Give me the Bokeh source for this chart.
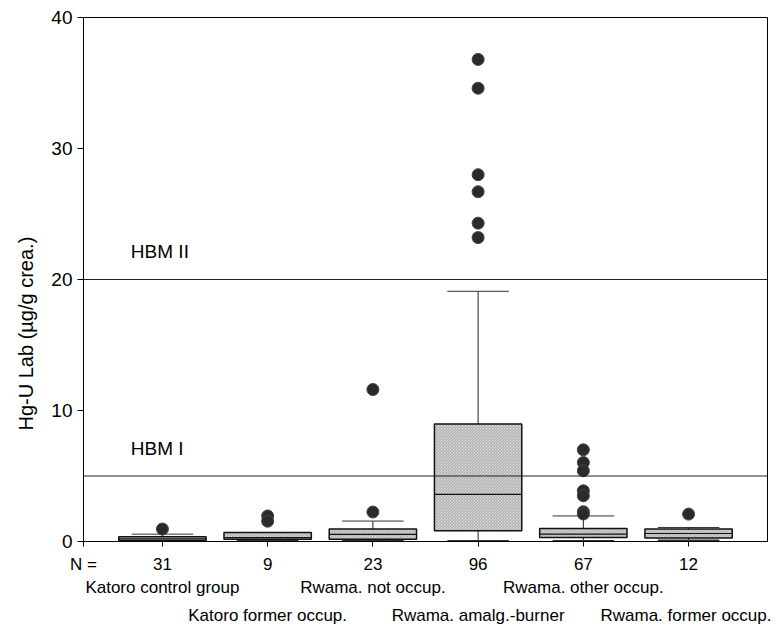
from bokeh.plotting import figure
from bokeh.models import Range1d, Span, Label, FixedTicker, LinearAxis, Title
from bokeh.embed import file_html
from bokeh.resources import INLINE

categories = ["Katoro control group", "Katoro former occup.", "Rwama. not occup.",
              "Rwama. amalg.-burner", "Rwama. other occup.", "Rwama. former occup."]
n_values = [31, 9, 23, 96, 67, 12]
lower_whisker = [0.0, 0.05, 0.05, 0.05, 0.05, 0.1]
q1 = [0.08, 0.18, 0.18, 0.82, 0.30, 0.26]
median = [0.2, 0.3, 0.55, 3.6, 0.56, 0.61]
q3 = [0.36, 0.68, 0.95, 8.96, 1.0, 0.95]
upper_whisker = [0.56, 0.68, 1.56, 19.1, 1.95, 1.07]
outliers = [
    [0.95],
    [1.95, 1.55],
    [11.6, 2.25],
    [36.8, 34.6, 28.0, 26.7, 24.3, 23.2],
    [7.0, 6.03, 5.4, 3.87, 3.49, 2.27, 2.1],
    [2.09],
]
limits = [5, 20]
limit_labels = ["HBM I", "HBM II"]
y_ticks = [0, 10, 20, 30, 40]

FONT = "Liberation Sans"
BOX_W = 0.83
CAP_W = 0.585
X_START, X_END = 0.25, 6.75

xs = [i + 1 for i in range(len(categories))]

p = figure(width=771, height=627, x_range=Range1d(X_START, X_END), y_range=Range1d(0, 40),
           output_backend="svg", toolbar_location=None,
           min_border_left=83, min_border_right=4, min_border_top=17, min_border_bottom=86)
p.grid.visible = False
p.outline_line_color = "black"
p.outline_line_width = 1
p.background_fill_color = "white"

# y axis
p.yaxis.ticker = FixedTicker(ticks=y_ticks)
p.yaxis.minor_tick_line_color = None
p.yaxis.major_tick_out = 6
p.yaxis.major_tick_in = 0
p.yaxis.major_label_standoff = 5
p.yaxis.major_label_text_font = FONT
p.yaxis.major_label_text_font_size = "19px"
p.yaxis.major_label_text_color = "black"
p.yaxis.axis_line_color = "black"

p.add_layout(Title(text="Hg-U Lab (µg/g crea.)", align="left", offset=111, standoff=24,
                   text_font=FONT, text_font_size="20px", text_font_style="normal",
                   text_color="black"), "left")

# x axis with N values
overrides = {X_START: "N ="}
overrides.update({x: str(n) for x, n in zip(xs, n_values)})
p.xaxis.ticker = FixedTicker(ticks=[X_START] + xs)
p.xaxis.major_label_overrides = overrides
p.xaxis.minor_tick_line_color = None
p.xaxis.major_tick_out = 5
p.xaxis.major_tick_in = 0
p.xaxis.major_label_standoff = 8
p.xaxis.major_label_text_font = FONT
p.xaxis.major_label_text_font_size = "17px"
p.xaxis.major_label_text_color = "black"
p.xaxis.axis_line_color = "black"

# category rows as extra axes below
for row, standoff in [(0, 1), (1, 6)]:
    ticks = xs[row::2]
    ax = LinearAxis(ticker=FixedTicker(ticks=ticks),
                    major_label_overrides={x: c for x, c in zip(ticks, categories[row::2])},
                    axis_line_color=None, major_tick_line_color=None,
                    minor_tick_line_color=None, major_tick_out=0, major_tick_in=0,
                    major_label_standoff=standoff, major_label_text_font=FONT,
                    major_label_text_font_size="17px", major_label_text_color="black")
    p.add_layout(ax, "below")

# limit lines
for lim, lab, ly in zip(limits, limit_labels, [7.13, 22.1]):
    p.add_layout(Span(location=lim, dimension="width", line_color="#222222", line_width=1))
    p.add_layout(Label(x=0.70, y=ly, text=lab, text_font=FONT, text_font_size="19px",
                       text_align="left", text_baseline="middle", text_color="black"))

# whiskers
p.segment(x0=xs, x1=xs, y0=q3, y1=upper_whisker, line_color="#222222", line_width=1)
p.segment(x0=xs, x1=xs, y0=lower_whisker, y1=q1, line_color="#222222", line_width=1)
p.segment(x0=[x - CAP_W / 2 for x in xs], x1=[x + CAP_W / 2 for x in xs],
          y0=upper_whisker, y1=upper_whisker, line_color="#333333", line_width=1)
p.segment(x0=[x - CAP_W / 2 for x in xs], x1=[x + CAP_W / 2 for x in xs],
          y0=lower_whisker, y1=lower_whisker, line_color="#333333", line_width=1.5)

# boxes
p.vbar(x=xs, width=BOX_W, bottom=q1, top=q3, fill_color="#f8f8f8",
       hatch_pattern="left_diagonal_line", hatch_color="#a0a0a0", hatch_scale=3,
       hatch_weight=1, line_color="#111111", line_width=1.5)
p.segment(x0=[x - BOX_W / 2 for x in xs], x1=[x + BOX_W / 2 for x in xs],
          y0=median, y1=median, line_color="#111111", line_width=1.2)

# outliers
ox, oy = [], []
for x, vals in zip(xs, outliers):
    for v in vals:
        ox.append(x)
        oy.append(v)
p.scatter(ox, oy, size=12, marker="circle", fill_color="#2a2a2a", line_color="#444444", line_width=1)

open("out.html", "w").write(file_html(p, INLINE))
